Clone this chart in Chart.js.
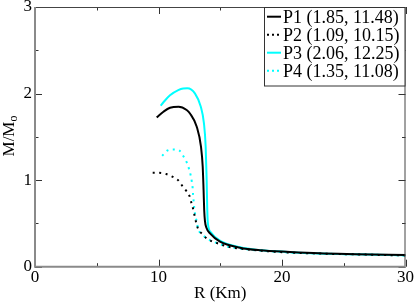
<!DOCTYPE html>
<html><head><meta charset="utf-8">
<script src="https://cdn.jsdelivr.net/npm/chart.js@4/dist/chart.umd.min.js"></script>
<style>html,body{margin:0;padding:0;background:#fff;overflow:hidden}</style>
</head><body>
<canvas id="c" width="415" height="302"></canvas>
<script>
// ---- data ----
const LABELS = ['P1 (1.85, 11.48)', 'P2 (1.09, 10.15)', 'P3 (2.06, 12.25)', 'P4 (1.35, 11.08)'];

const P1_R = [9.85,10.4,10.93,11.63,12.28,12.55,13.09,13.44,13.58,13.65,13.7,13.76,13.88,14.17,14.98,16.6,18.2,20.65,23,26,30];
const P1_M = [1.725,1.79,1.836,1.848,1.81,1.77,1.62,1.386,1.155,0.886,0.655,0.53,0.45,0.385,0.29,0.22,0.19,0.17,0.155,0.145,0.134];

const P2_R = [9.53,10.0,10.63,11.12,11.58,11.9,12.23,12.5,12.66,12.8,12.93,13.05,13.2,13.6,13.95,14.4,14.9,15.4,16.05,17.5,20,23,26,30];
const P2_M = [1.085,1.085,1.07,1.04,1.0,0.94,0.88,0.82,0.74,0.67,0.585,0.51,0.44,0.37,0.32,0.29,0.265,0.24,0.22,0.195,0.168,0.152,0.142,0.13];

const P3_R = [10.17,10.4,10.93,11.6,12.0,12.33,12.96,13.42,13.68,13.82,13.9,13.95,14.0,14.22,15.0,16.6,18.2,20.65,23,26,30];
const P3_M = [1.86,1.9,1.98,2.04,2.058,2.06,2.0,1.85,1.656,1.386,1.0,0.655,0.5,0.4,0.3,0.225,0.192,0.168,0.153,0.143,0.132];

const P4_R = [10.3,10.7,11.2,11.7,12.04,12.3,12.47,12.6,12.7,12.77,12.8,12.85,12.9,12.98,13.1,13.2,13.5,13.9,14.4,14.9,15.4,16.05,17.5,20,23,26,30];
const P4_M = [1.28,1.34,1.355,1.34,1.27,1.2,1.13,1.06,0.98,0.9,0.83,0.75,0.67,0.59,0.52,0.44,0.38,0.33,0.29,0.265,0.24,0.22,0.195,0.168,0.152,0.142,0.13];

const X_MAJOR = [0,10,20,30];
const X_MINOR = [5,15,25];
const Y_MAJOR = [0,1,2,3];
const Y_MINOR = [0.5,1.5,2.5];
const X_TITLE = 'R (Km)';
const Y_TITLE_MAIN = 'M/M';
const Y_TITLE_SUB = 'o';

// ---- rendering ----
const FONT = '"Liberation Serif","Times New Roman",Times,serif';
const CYAN = '#00ffff';
const pts = (xs, ys) => xs.map((v, i) => ({x: v, y: ys[i]}));
const DOT = [2, 4.5];

const datasets = [
  {label: LABELS[0], data: pts(P1_R, P1_M), borderColor: '#000', borderWidth: 2, borderDash: []},
  {label: LABELS[1], data: pts(P2_R, P2_M), borderColor: '#000', borderWidth: 2, borderDash: DOT},
  {label: LABELS[2], data: pts(P3_R, P3_M), borderColor: CYAN, borderWidth: 2, borderDash: []},
  {label: LABELS[3], data: pts(P4_R, P4_M), borderColor: CYAN, borderWidth: 2, borderDash: DOT}
].map(d => Object.assign(d, {showLine: true, pointRadius: 0, cubicInterpolationMode: 'monotone', fill: false}));

const decor = {
  id: 'decor',
  afterDatasetsDraw(chart) {
    const {ctx, chartArea: a, scales: {x, y}} = chart;
    ctx.save();
    ctx.setLineDash([]);
    // ticks, inward on all four sides
    ctx.strokeStyle = '#333'; ctx.lineWidth = 1;
    const tx = (v, len) => {
      const p = Math.round(x.getPixelForValue(v)) + 0.5;
      ctx.beginPath(); ctx.moveTo(p, a.bottom); ctx.lineTo(p, a.bottom - len);
      ctx.moveTo(p, a.top); ctx.lineTo(p, a.top + len); ctx.stroke();
    };
    const ty = (v, len) => {
      const p = Math.round(y.getPixelForValue(v)) + 0.5;
      ctx.beginPath(); ctx.moveTo(a.left, p); ctx.lineTo(a.left + len, p);
      ctx.moveTo(a.right, p); ctx.lineTo(a.right - len, p); ctx.stroke();
    };
    X_MAJOR.forEach(v => tx(v, 7)); X_MINOR.forEach(v => tx(v, 3.5));
    Y_MAJOR.forEach(v => ty(v, 7)); Y_MINOR.forEach(v => ty(v, 3.5));
    // frame
    ctx.strokeStyle = '#444'; ctx.lineWidth = 1;
    ctx.beginPath(); ctx.moveTo(a.left, a.top + 0.5); ctx.lineTo(a.right - 0.5, a.top + 0.5); ctx.lineTo(a.right - 0.5, a.bottom); ctx.stroke();
    ctx.strokeStyle = '#8a8a8a'; ctx.lineWidth = 2;
    ctx.beginPath(); ctx.moveTo(a.left, a.top); ctx.lineTo(a.left, a.bottom); ctx.lineTo(a.right, a.bottom); ctx.stroke();

    // legend box
    const bx = 264.5, by = a.top + 0.5, bw = a.right - 0.5 - bx, bh = 86 - by;
    ctx.fillStyle = '#fff'; ctx.fillRect(bx, by, bw, bh);
    ctx.strokeStyle = '#333'; ctx.lineWidth = 1; ctx.strokeRect(bx, by, bw, bh);
    ctx.font = '18px ' + FONT; ctx.fillStyle = '#000'; ctx.textAlign = 'left'; ctx.textBaseline = 'alphabetic';
    chart.data.datasets.forEach((d, i) => {
      const cy = 16.7 + i * 18;
      ctx.strokeStyle = d.borderColor; ctx.lineWidth = 2;
      ctx.setLineDash(d.borderDash.length ? [2, 3] : []);
      ctx.beginPath(); ctx.moveTo(267, cy); ctx.lineTo(281, cy); ctx.stroke();
      ctx.setLineDash([]);
      ctx.fillText(d.label, 283, cy + 6);
    });

    // axis titles
    ctx.font = '17px ' + FONT; ctx.fillStyle = '#000'; ctx.textAlign = 'center';
    ctx.fillText(X_TITLE, (a.left + a.right) / 2, 297.5);
    ctx.translate(0, 136); ctx.rotate(-Math.PI / 2);
    const w1 = ctx.measureText(Y_TITLE_MAIN).width;
    ctx.font = '12px ' + FONT;
    const w2 = ctx.measureText(Y_TITLE_SUB).width;
    ctx.textAlign = 'left';
    ctx.font = '17px ' + FONT;
    ctx.fillText(Y_TITLE_MAIN, -(w1 + w2) / 2, 14);
    ctx.font = '12px ' + FONT;
    ctx.fillText(Y_TITLE_SUB, -(w1 + w2) / 2 + w1, 16.5);
    ctx.restore();
  }
};

new Chart(document.getElementById('c'), {
  type: 'scatter',
  data: {datasets},
  options: {
    responsive: false, animation: false, devicePixelRatio: 1,
    layout: {padding: {top: 7, right: 9.5, left: 0, bottom: 0}},
    plugins: {legend: {display: false}, tooltip: {enabled: false}},
    scales: {
      x: {
        type: 'linear', min: 0, max: 30,
        afterBuildTicks: s => { s.ticks = X_MAJOR.map(v => ({value: v})); },
        afterFit: s => { s.height = 35.3; s.paddingLeft = 0; s.paddingRight = 0; },
        grid: {display: false, drawTicks: false}, border: {display: false},
        ticks: {padding: 1, color: '#000', font: {family: FONT, size: 17}, maxRotation: 0, autoSkip: false}
      },
      y: {
        type: 'linear', min: 0, max: 3,
        afterBuildTicks: s => { s.ticks = Y_MAJOR.map(v => ({value: v})); },
        afterFit: s => { s.width = 35; s.paddingTop = 0; s.paddingBottom = 0; },
        grid: {display: false, drawTicks: false}, border: {display: false},
        ticks: {padding: 3, color: '#000', font: {family: FONT, size: 17}, autoSkip: false}
      }
    }
  },
  plugins: [decor]
});
</script>
</body></html>
